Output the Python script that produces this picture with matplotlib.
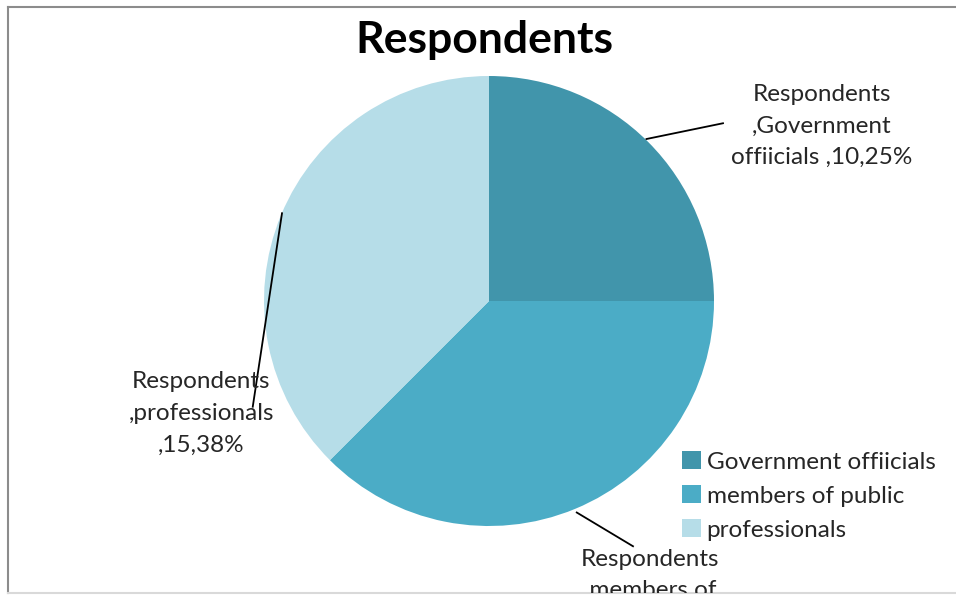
import matplotlib.pyplot as plt
from matplotlib.patches import Patch

# datos
categories = ['Government offiicials', 'members of public', 'professionals']
values = [10, 15, 15]
label_texts = ['Respondents\n,Government\noffiicials ,10,25%',
               'Respondents\n,members of\npublic ,15,38%',
               'Respondents\n,professionals\n,15,38%']
colors = ['#4195AB', '#4BACC6', '#B6DDE8']

plt.rcParams['font.family'] = ['Lato', 'DejaVu Sans']

fig = plt.figure(figsize=(9.56, 5.95), dpi=100)

# marco del gráfico
frame = fig.add_axes([8 / 956, 2 / 595, 1.0, 586 / 595])
frame.set_xticks([])
frame.set_yticks([])
for s in ['left', 'top']:
    frame.spines[s].set_color('#8c8c8c')
    frame.spines[s].set_linewidth(1.5)
frame.spines['bottom'].set_color('#d9d9d9')
frame.spines['bottom'].set_linewidth(1.5)
frame.spines['right'].set_visible(False)

# pastel
cx, cy, r = 489, 301, 225
ax = fig.add_axes([(cx - r) / 956, (595 - cy - r) / 595, 2 * r / 956, 2 * r / 595])
ax.pie(values, colors=colors, startangle=90, counterclock=False, radius=1.0)
ax.set_xlim(-1, 1)
ax.set_ylim(-1, 1)
ax.set_aspect('equal')

# etiquetas con líneas guía
lines = [((0.70, 0.72), (1.04, 0.79)),
         ((0.39, -0.94), (0.64, -1.09)),
         ((-0.92, 0.39), (-1.05, -0.47))]
text_pos = [(1.48, 0.778, 'center'), (0.716, -1.10, 'top'), (-1.28, -0.50, 'center')]
for (p0, p1), (tx, ty, va), txt in zip(lines, text_pos, label_texts):
    ax.plot([p0[0], p1[0]], [p0[1], p1[1]], color='black', lw=1.3, clip_on=False)
    t = ax.text(tx, ty, txt, ha='center', va=va, fontsize=17.5,
                color='#262626', linespacing=1.62, clip_on=True)
    t.set_clip_box(frame.bbox)

fig.text(484 / 956, 1 - 40 / 595, 'Respondents', ha='center', va='center',
         fontsize=32, fontweight='bold', color='black')

handles = [Patch(facecolor=c, edgecolor='none') for c in colors]
fig.legend(handles, categories, loc='upper left', bbox_to_anchor=(675 / 956, 1 - 444 / 595),
           frameon=False, fontsize=17.5, handlelength=0.75, handleheight=0.75,
           handletextpad=0.25, labelspacing=0.52, labelcolor='#262626',
           borderaxespad=0, borderpad=0.3)

fig.savefig('out.png', dpi=100)
